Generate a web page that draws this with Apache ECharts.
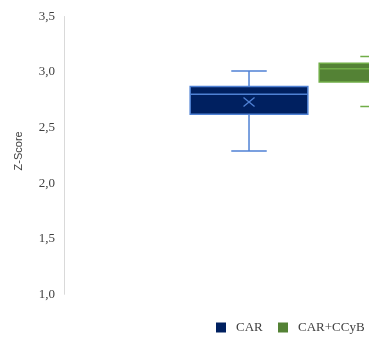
<!DOCTYPE html>
<html>
<head>
<meta charset="utf-8">
<script src="https://cdn.jsdelivr.net/npm/echarts@6/dist/echarts.min.js"></script>
<style>
  html, body { margin: 0; padding: 0; background: #ffffff; }
  #chart { width: 369px; height: 338px; }
</style>
</head>
<body>
<div id="chart"></div>
<script>
// Series names and five-number summaries (min, Q1, median, Q3, max) plus mean
const seriesNames = ['CAR', 'CAR+CCyB'];
const seriesSlots = [1, 2];
const carStats = [2.29, 2.62, 2.80, 2.87, 3.01];
const carMean = 2.73;
const ccybStats = [2.69, 2.91, 3.03, 3.08, 3.14];
const ccybMean = 3.00;
const yTickLabels = ['1,0', '1,5', '2,0', '2,5', '3,0', '3,5'];

const fills = ['#002060', '#548235'];
const strokes = ['#4F81D4', '#70AD47'];

const BOX_RATIO = 0.912;   // box width as share of one slot
const CAP_RATIO = 0.275;   // whisker cap width as share of one slot

function renderBox(params, api) {
  const x = api.value(0);
  const slot = api.size([1, 0])[0];
  const cx = api.coord([x, api.value(3)])[0];
  const yMin = api.coord([x, api.value(1)])[1];
  const yQ1 = api.coord([x, api.value(2)])[1];
  const yMed = api.coord([x, api.value(3)])[1];
  const yQ3 = api.coord([x, api.value(4)])[1];
  const yMax = api.coord([x, api.value(5)])[1];
  const yMean = api.coord([x, api.value(6)])[1];
  const hb = slot * BOX_RATIO / 2;
  const hc = slot * CAP_RATIO / 2;
  const fill = fills[params.seriesIndex];
  const stroke = strokes[params.seriesIndex];
  const ls = { stroke: stroke, lineWidth: 1.5, fill: null };
  const mx = 5.5, my = 4.5;
  return {
    type: 'group',
    children: [
      { type: 'line', shape: { x1: cx, y1: yQ3, x2: cx, y2: yMax }, style: ls },
      { type: 'line', shape: { x1: cx, y1: yQ1, x2: cx, y2: yMin }, style: ls },
      { type: 'line', shape: { x1: cx - hc, y1: yMax, x2: cx + hc, y2: yMax }, style: ls },
      { type: 'line', shape: { x1: cx - hc, y1: yMin, x2: cx + hc, y2: yMin }, style: ls },
      { type: 'rect', shape: { x: cx - hb, y: yQ3, width: 2 * hb, height: yQ1 - yQ3 },
        style: { fill: fill, stroke: stroke, lineWidth: 1.5 } },
      { type: 'line', shape: { x1: cx - hb, y1: yMed, x2: cx + hb, y2: yMed }, style: ls },
      { type: 'line', shape: { x1: cx - mx, y1: yMean - my, x2: cx + mx, y2: yMean + my },
        style: { stroke: stroke, lineWidth: 1.3 } },
      { type: 'line', shape: { x1: cx - mx, y1: yMean + my, x2: cx + mx, y2: yMean - my },
        style: { stroke: stroke, lineWidth: 1.3 } }
    ]
  };
}

const legendText = { fontFamily: 'Liberation Serif', fontSize: 13, color: '#404040', padding: [0, 0, 0, 5] };

const chart = echarts.init(document.getElementById('chart'), null, { renderer: 'canvas' });
chart.setOption({
  animation: false,
  backgroundColor: '#ffffff',
  grid: { left: 64, top: 16.5, right: 0, height: 277.8 },
  xAxis: {
    type: 'value',
    min: -0.434,
    max: 1.930,
    axisLine: { show: false },
    axisTick: { show: false },
    axisLabel: { show: false },
    splitLine: { show: false }
  },
  yAxis: {
    type: 'value',
    min: 1,
    max: 3.5,
    interval: 0.5,
    name: 'Z-Score',
    nameLocation: 'middle',
    nameGap: 40,
    nameRotate: 90,
    nameTextStyle: { fontFamily: 'Liberation Sans', fontSize: 11, color: '#404040', padding: [0, 0, 0, 9] },
    axisLine: { show: true, onZero: false, lineStyle: { color: '#D9D9D9', width: 1 } },
    axisTick: { show: false },
    splitLine: { show: false },
    axisLabel: {
      margin: 9,
      fontFamily: 'Liberation Serif',
      fontSize: 13,
      color: '#404040',
      formatter: function (v) { return yTickLabels[Math.round((v - 1) / 0.5)]; }
    }
  },
  legend: [
    {
      left: 216, top: 321, padding: 0,
      itemWidth: 10, itemHeight: 10, icon: 'rect',
      data: [seriesNames[0]],
      itemStyle: { borderWidth: 0 },
      textStyle: legendText
    },
    {
      left: 278, top: 321, padding: 0,
      itemWidth: 10, itemHeight: 10, icon: 'rect',
      data: [seriesNames[1]],
      itemStyle: { borderWidth: 0 },
      textStyle: legendText
    }
  ],
  series: [
    {
      name: seriesNames[0],
      type: 'custom',
      renderItem: renderBox,
      itemStyle: { color: fills[0] },
      encode: { x: 0, y: [1, 2, 3, 4, 5, 6] },
      data: [[seriesSlots[0]].concat(carStats, [carMean])]
    },
    {
      name: seriesNames[1],
      type: 'custom',
      renderItem: renderBox,
      itemStyle: { color: fills[1] },
      encode: { x: 0, y: [1, 2, 3, 4, 5, 6] },
      data: [[seriesSlots[1]].concat(ccybStats, [ccybMean])]
    }
  ]
});
</script>
</body>
</html>
